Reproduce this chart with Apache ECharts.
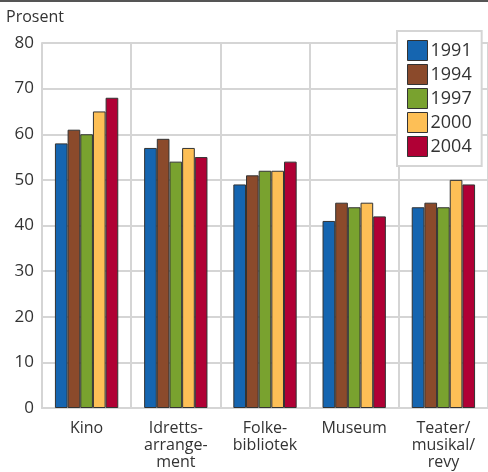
<!DOCTYPE html>
<html>
<head>
    <meta charset="utf-8">
    <script type="text/javascript" src="https://cdn.jsdelivr.net/npm/echarts@6/dist/echarts.min.js"></script>
</head>
<body style="margin:0; background-color:#fff">
<div id="main" style="width:488px;height:472px;"></div>
<script type="text/javascript">
    var categories = ['Kino', 'Idretts-\narrange-\nment', 'Folke-\nbibliotek', 'Museum', 'Teater/\nmusikal/\nrevy'];
    var years      = ['1991', '1994', '1997', '2000', '2004'];
    var colors     = ['#1565b0', '#8b4a2b', '#79a22f', '#fdbf56', '#b00035'];
    var v1991 = [58, 57, 49, 41, 44];
    var v1994 = [61, 59, 51, 45, 45];
    var v1997 = [60, 54, 52, 44, 44];
    var v2000 = [65, 57, 52, 45, 50];
    var v2004 = [68, 55, 54, 42, 49];
    var values = [v1991, v1994, v1997, v2000, v2004];
    var yTicks = [0, 80, 10];

    var font = '"Open Sans", "Noto Sans", sans-serif';
    var gridColor = '#d5d5d5';

    var series = years.map(function (y, i) {
        return {
            name: y,
            type: 'bar',
            data: values[i],
            barGap: '0%',
            barCategoryGap: '29%',
            itemStyle: { color: colors[i], borderColor: '#333', borderWidth: 1 }
        };
    });

    var myChart = echarts.init(document.getElementById('main'));
    var option = {
        animation: false,
        textStyle: { fontFamily: font },
        grid: { left: 42, top: 43, width: 450, height: 365 },
        graphic: [
            { type: 'rect', shape: { x: 0, y: 0, width: 488, height: 2 }, style: { fill: '#555' } },
            { type: 'text', left: 6, top: 9, style: { text: 'Prosent', fill: '#333', font: '16px ' + font } }
        ],
        legend: {
            orient: 'vertical',
            left: 397, top: 31,
            padding: [9, 10, 9, 10],
            itemWidth: 20, itemHeight: 20, itemGap: 3,
            icon: 'rect',
            backgroundColor: '#fff',
            borderColor: gridColor, borderWidth: 2,
            itemStyle: { borderColor: '#333', borderWidth: 1 },
            textStyle: { fontSize: 18, color: '#333', fontFamily: font, padding: [0, 0, 0, -2] },
            data: years
        },
        xAxis: {
            type: 'category',
            data: categories,
            axisLine: { lineStyle: { color: gridColor, width: 2 } },
            axisTick: { show: false },
            splitLine: { show: true, lineStyle: { color: gridColor, width: 2 } },
            axisLabel: { fontSize: 16, color: '#333', lineHeight: 17, margin: 12, interval: 0 }
        },
        yAxis: {
            type: 'value',
            min: yTicks[0], max: yTicks[1], interval: yTicks[2],
            axisLine: { show: true, lineStyle: { color: gridColor, width: 2 } },
            axisTick: { show: false },
            splitLine: { lineStyle: { color: gridColor, width: 2 } },
            axisLabel: { fontSize: 17, color: '#333', margin: 8 }
        },
        series: series
    };
    myChart.setOption(option);
</script>
</body>
</html>
